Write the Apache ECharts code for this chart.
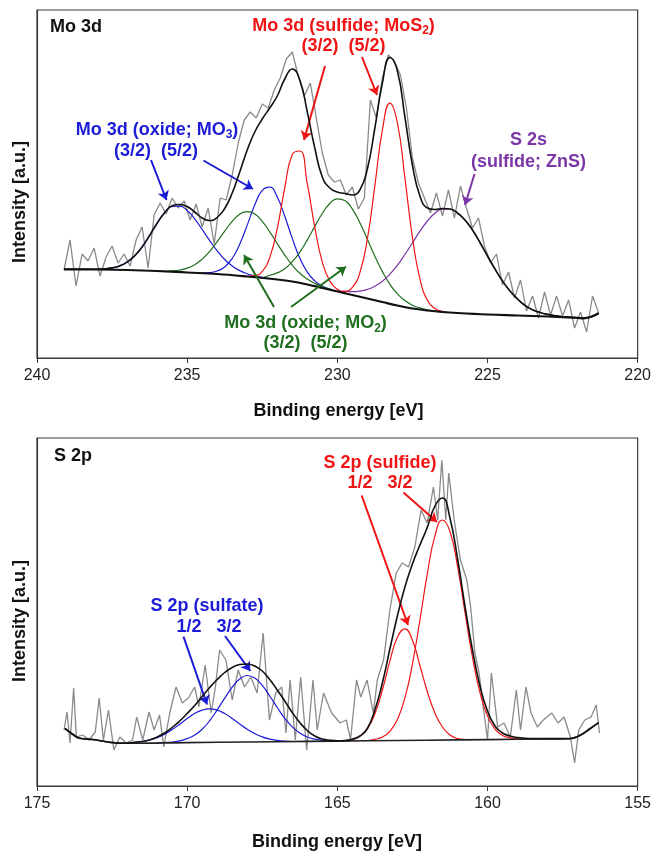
<!DOCTYPE html>
<html><head><meta charset="utf-8">
<script src="https://cdn.jsdelivr.net/npm/echarts/dist/echarts.min.js"></script>
<style>html,body{margin:0;padding:0;background:#fff;}#c{width:654px;height:852px;}</style>
</head><body><div id="c"></div>
<script>
// ---------- Mo 3d panel (binding energy eV, intensity a.u.) ----------
const moTicks = [240, 235, 230, 225, 220];
const moRawE = [239.1,238.9,238.7,238.5,238.3,238.1,237.9,237.7,237.5,237.3,237.1,236.9,236.7,236.5,236.3,236.1,235.9,235.7,235.5,235.3,235.1,234.9,234.7,234.5,234.3,234.1,233.9,233.7,233.5,233.3,233.1,232.9,232.7,232.5,232.3,232.1,231.9,231.7,231.5,231.3,231.1,230.9,230.7,230.5,230.3,230.1,229.9,229.7,229.5,229.3,229.1,228.9,228.7,228.5,228.3,228.1,227.9,227.7,227.5,227.3,227.1,226.9,226.7,226.5,226.3,226.1,225.9,225.7,225.5,225.3,225.1,224.9,224.7,224.5,224.3,224.1,223.9,223.7,223.5,223.3,223.1,222.9,222.7,222.5,222.3,222.1,221.9,221.7,221.5,221.3];
const moRawI = [88,118,72,104,97,110,82,101,112,95,104,92,118,131,90,143,155,144,160,150,157,138,154,131,150,114,160,158,183,215,238,246,240,254,250,268,280,299,306,282,262,275,240,205,183,176,178,163,171,149,160,258,240,280,303,297,283,250,200,175,160,145,165,142,168,140,172,150,130,140,112,95,104,73,86,60,78,47,62,40,66,43,62,42,58,30,46,26,62,45];
const moBackground = [[239.1,88.7],[238,88.5],[237,88],[236,87],[235,85.5],[234,84],[233,81.5],[232,78.5],[231.5,76.5],[231,73.5],[230.5,70],[230,66.5],[229.5,63],[229,59.5],[228.5,56],[228,52.5],[227.5,49.5],[227,47.5],[226.5,46],[226,45],[225,43.5],[224,42.5],[223,41.5],[222,40.2],[221.8,39.7],[221.3,44.7]];
const moEnvelope = [[239.1,88.7],[238.75,88.7],[238.5,88.7],[238.25,88.7],[238,88.8],[237.75,89.1],[237.5,90.1],[237.25,92.1],[237,95.9],[236.75,102.1],[236.5,111.1],[236.25,122.5],[236,134.8],[235.75,145.3],[235.5,152.3],[235.25,153.5],[235,151.5],[234.75,146],[234.5,140],[234.25,137.5],[234,140.5],[233.75,149.5],[233.5,165],[233.25,186],[233,208],[232.75,226],[232.5,239],[232.25,250],[232,262],[231.75,279],[231.5,289],[231.25,278],[231,246],[230.75,210],[230.5,181],[230.25,170],[230,166],[229.75,164.5],[229.5,163],[229.25,168],[229,189],[228.75,230],[228.5,275],[228.25,300.5],[228,287],[227.75,241],[227.5,193],[227.25,162],[227,150],[226.75,148.5],[226.5,149.5],[226.25,149],[226,145],[225.75,138],[225.5,128],[225.25,115.5],[225,102],[224.75,89],[224.5,77],[224.25,67],[224,59],[223.75,52.5],[223.5,48.2],[223.25,45.5],[223,43.6],[222.75,42.3],[222.5,41.3],[222.25,40.7],[222,40.3],[221.8,39.9],[221.3,44.7]];
const moO3_32 = [[238,88.8],[237.75,89.1],[237.5,90.1],[237.25,92.1],[237,95.9],[236.75,102.1],[236.5,111.1],[236.25,122.5],[236,134.8],[235.75,145.3],[235.5,151.5],[235.25,151.9],[235,147.5],[234.75,139.1],[234.5,128.6],[234.25,117.4],[234,107.2],[233.75,98.5],[233.5,92],[233.25,87.4],[233,84.2],[232.75,82.1],[232.5,80.6],[232.25,79.3]];
const moO3_52 = [[234.5,85.1],[234.25,85.4],[234,87],[233.75,91],[233.5,99.5],[233.25,113.8],[233,132.9],[232.75,153],[232.5,167.6],[232.25,170.8],[232,161],[231.75,141.7],[231.5,119.6],[231.25,99.9],[231,85.9],[230.75,77.1],[230.5,72],[230.25,68.9],[230,66.5]];
const moO2_32 = [[236,87],[235.75,86.9],[235.5,87.2],[235.25,88],[235,89.9],[234.75,93.3],[234.5,98.9],[234.25,106.6],[234,116.4],[233.75,126.8],[233.5,136.6],[233.25,143.8],[233,146.4],[232.75,144],[232.5,136.7],[232.25,126.2],[232,114.4],[231.75,102.8],[231.5,92.9],[231.25,84.8],[231,79],[230.75,74.6],[230.5,71.3],[230.25,68.9],[230,66.5]];
const moO2_52 = [[232.5,80],[232.25,82.7],[232,85.1],[231.75,89.3],[231.5,96.3],[231.25,105.8],[231,118.1],[230.75,131.6],[230.5,144.5],[230.25,154.5],[230,159.2],[229.75,157.4],[229.5,148.8],[229.25,135.3],[229,118.7],[228.75,101.8],[228.5,86.4],[228.25,73.7],[228,64.1],[227.75,57.4],[227.5,52.8],[227.25,50.1],[227,48.2],[226.75,46.9],[226.5,46]];
const moS2_32 = [[233,81.8],[232.75,82.4],[232.5,86.7],[232.25,100.6],[232,129.6],[231.75,170.1],[231.5,203.5],[231.25,207],[231,174.3],[230.75,130.7],[230.5,95.9],[230.25,76.9],[230,68.7],[229.75,65.2],[229.5,63]];
const moS2_52 = [[230,66.5],[229.75,66.7],[229.5,70.6],[229.25,85.4],[229,119],[228.75,172.4],[228.5,227.9],[228.25,254.8],[228,235],[227.75,180.2],[227.5,120.8],[227.25,79.1],[227,57.7],[226.75,49.4],[226.5,46.5],[226.25,45.5]];
const znS_2s = [[230,67.5],[229.75,66.7],[229.5,66.3],[229.25,66.9],[229,68.6],[228.75,71.8],[228.5,76.8],[228.25,83.8],[228,92.8],[227.75,103.5],[227.5,115],[227.25,126.8],[227,137],[226.75,144.8],[226.5,148.9],[226.25,149],[226,145],[225.75,138],[225.5,128],[225.25,115.5],[225,102],[224.75,89],[224.5,77],[224.25,67],[224,59],[223.75,52.5],[223.5,48.2],[223.25,45.5],[223,43.6],[222.75,42.3],[222.5,41.3],[222.25,40.7]];

// ---------- S 2p panel ----------
const sTicks = [175, 170, 165, 160, 155];
const sRawE = [174.1,174.0,173.9,173.78,173.69,173.48,173.27,173.06,172.93,172.79,172.62,172.44,172.24,172.03,171.82,171.68,171.48,171.27,171.1,170.92,170.78,170.58,170.37,170.16,169.96,169.75,169.61,169.4,169.2,169.06,168.92,168.71,168.5,168.3,168.09,167.88,167.67,167.47,167.26,167.05,166.85,166.71,166.57,166.4,166.22,166.02,165.81,165.67,165.46,165.19,164.91,164.7,164.56,164.36,164.22,164.01,163.8,163.67,163.46,163.25,163.04,162.84,162.63,162.42,162.21,162.01,161.8,161.66,161.52,161.39,161.29,161.11,160.9,160.69,160.56,160.42,160.28,160.14,160.0,159.87,159.66,159.45,159.24,159.04,158.9,158.72,158.55,158.34,158.14,157.86,157.65,157.45,157.24,157.1,156.96,156.76,156.55,156.38,156.27];
const sRawI = [56,74,43,98,49,51,46,54,88,46,76,36,49,43,46,69,46,74,56,71,39,73,99,83,88,99,79,121,73,99,136,126,86,116,99,109,93,153,66,93,99,53,106,46,109,36,106,56,93,73,63,66,46,106,89,106,73,106,126,176,213,223,219,239,276,263,299,266,326,266,313,266,226,206,179,133,113,79,46,113,59,63,49,96,56,99,73,59,66,73,63,69,49,23,56,66,69,81,53];
const sBackground = [[174.07,57.7],[173.8,51.5],[173.58,47.7],[173.14,46.5],[172.6,43.8],[172.03,42.8],[170,43.4],[168,44],[166,44.6],[164,45.2],[162,45.8],[160,46.4],[158,47],[157.25,47.3],[156.9,51],[156.6,57],[156.3,63.3]];
const sEnvelope = [[174.07,57.7],[173.8,51.5],[173.58,47.7],[173.14,46.5],[172.6,43.8],[172.03,42.8],[171.75,43.7],[171.5,44.5],[171.25,46.1],[171,49],[170.75,53],[170.5,58.5],[170.25,65],[170,72.5],[169.75,80.5],[169.5,89.5],[169.25,98.5],[169,106.5],[168.75,113.5],[168.5,118.5],[168.25,121.5],[168,122],[167.75,120],[167.5,115],[167.25,106.5],[167,96],[166.75,85],[166.5,73.5],[166.25,63.5],[166,55.5],[165.75,50],[165.5,47],[165.25,45.8],[165,45.3],[164.75,45.5],[164.5,46.8],[164.25,50],[164,57.5],[163.75,76],[163.5,103],[163.25,137],[163,170],[162.75,199],[162.5,222],[162.25,241],[162,259],[161.75,280],[161.5,288],[161.25,268],[161,228],[160.75,180],[160.5,136],[160.25,100],[160,75],[159.75,60],[159.5,53],[159.25,50],[159,48.5],[158.75,47.8],[158.5,47.5],[158,47.4],[157.25,47.5],[156.9,51],[156.6,57],[156.3,63.3]];
const sulfate_12 = [[172,43.2],[171.75,43.7],[171.5,44.5],[171.25,46.1],[171,48.4],[170.75,51.9],[170.5,56.5],[170.25,61.8],[170,67.5],[169.75,72.6],[169.5,75.9],[169.25,77.2],[169,75.9],[168.75,72.4],[168.5,67.5],[168.25,62],[168,56.7],[167.75,52.4],[167.5,49.1],[167.25,46.9],[167,45.6],[166.75,44.8],[166.5,44.5]];
const sulfate_32 = [[171,43.2],[170.75,43.5],[170.5,44],[170.25,45.1],[170,47.4],[169.75,51],[169.5,56.8],[169.25,65.3],[169,76.1],[168.75,87.8],[168.5,98.8],[168.25,107],[168,110.5],[167.75,108],[167.5,100.6],[167.25,90],[167,78.5],[166.75,67.7],[166.5,59.1],[166.25,53],[166,49],[165.75,46.8],[165.5,45.7],[165.25,45.2],[165,44.9]];
const sulfide_12 = [[165,45.2],[164.75,45.4],[164.5,46.6],[164.25,49.7],[164,57.1],[163.75,72.3],[163.5,96],[163.25,124.8],[163,148.7],[162.75,157.2],[162.5,145.8],[162.25,120.5],[162,94],[161.75,73],[161.5,59],[161.25,51],[161,47.5],[160.75,46.5],[160.5,46.3]];
const sulfide_32 = [[164,45.5],[163.75,46.7],[163.5,49],[163.25,54.6],[163,66.5],[162.75,88.1],[162.5,121.9],[162.25,166],[162,212.9],[161.75,250.2],[161.5,266],[161.25,254.5],[161,220.1],[160.75,173.9],[160.5,128.8],[160.25,93.4],[160,70],[159.75,56.9],[159.5,50.6],[159.25,48.1],[159,47.1],[158.75,46.8]];

// ---------- styling ----------
const FONT = '"Liberation Sans", Arial, Helvetica, sans-serif';
const RED = '#f01414', BLUE = '#1c1cd6', GREEN = '#1f6f1f', PURPLE = '#7a35a6', GRAY = '#8a8a8a';

function zip(E, I) { return E.map((e, i) => [e, I[i]]); }
function line(data, g, color, width, z, smooth) {
  return { type: 'line', xAxisIndex: g, yAxisIndex: g, data: data, symbol: 'none', smooth: smooth,
    lineStyle: { color: color, width: width }, itemStyle: { color: color }, z: z, silent: true, animation: false };
}
function arrows(list) {
  return list.map(a => [{ x: a[0], y: a[1], lineStyle: { color: a[4], width: 2, type: 'solid' }, itemStyle: { color: a[4] } }, { x: a[2], y: a[3] }]);
}
function xAx(g, min, max) {
  return { gridIndex: g, type: 'value', min: min, max: max, interval: 5, inverse: true,
    axisLine: { lineStyle: { color: '#3a3a3a', width: 1.2 } },
    axisTick: { length: 5, lineStyle: { color: '#3a3a3a' } },
    axisLabel: { fontSize: 16, color: '#222', margin: 10, fontFamily: FONT },
    splitLine: { show: false } };
}
function yAx(g) {
  return { gridIndex: g, type: 'value', min: 0, max: 348, axisLine: { show: true, lineStyle: { color: '#3a3a3a', width: 1.2 } },
    axisTick: { show: false }, axisLabel: { show: false }, splitLine: { show: false } };
}
function txt(s, x, y, color, align, extra) {
  const st = { text: s, fill: color, fontSize: 18, fontWeight: 'bold', fontFamily: FONT,
    align: align || 'center', verticalAlign: 'middle', textAlign: align || 'center', textVerticalAlign: 'middle',
    lineHeight: 22,
    rich: { s: { fontSize: 12, fontWeight: 'bold', fontFamily: FONT, fill: color, verticalAlign: 'bottom', lineHeight: 12 } } };
  return Object.assign({ type: 'text', x: x, y: y, silent: true, z: 100, style: st }, extra || {});
}

const topArrows = [
  [325, 66, 304, 140, RED], [362, 57, 377, 95, RED],
  [151, 160, 166.5, 200, BLUE], [203.5, 160.5, 253, 189, BLUE],
  [474.5, 174, 465, 205, PURPLE],
  [274, 307, 244, 255, GREEN], [291, 307, 346, 266.7, GREEN]
];
const botArrows = [
  [361.7, 495.5, 408, 625, RED], [403.5, 492.5, 437, 522, RED],
  [183.5, 636.7, 207, 704.5, BLUE], [225, 636, 250.3, 671, BLUE]
];

const rawTop = line(zip(moRawE, moRawI), 0, GRAY, 1.3, 1, false);
rawTop.markLine = { silent: true, animation: false, symbol: ['none', 'arrow'], symbolSize: 9, label: { show: false }, data: arrows(topArrows) };
const rawBot = line(zip(sRawE, sRawI), 1, GRAY, 1.3, 1, false);
rawBot.markLine = { silent: true, animation: false, symbol: ['none', 'arrow'], symbolSize: 9, label: { show: false }, data: arrows(botArrows) };

const option = {
  animation: false,
  backgroundColor: '#fff',
  grid: [
    { left: 37, top: 10, width: 602, height: 348, show: true, borderColor: '#3a3a3a', borderWidth: 1.2 },
    { left: 37, top: 438, width: 604, height: 348, show: true, borderColor: '#3a3a3a', borderWidth: 1.2 }
  ],
  xAxis: [xAx(0, moTicks[4], moTicks[0]), xAx(1, sTicks[4], sTicks[0])],
  yAxis: [yAx(0), yAx(1)],
  series: [
    rawTop,
    line(moO3_32, 0, BLUE, 1.2, 2, true),
    line(moO3_52, 0, BLUE, 1.2, 2, true),
    line(moO2_32, 0, GREEN, 1.2, 2, true),
    line(moO2_52, 0, GREEN, 1.2, 2, true),
    line(znS_2s, 0, PURPLE, 1.2, 2, true),
    line(moS2_32, 0, RED, 1.2, 3, true),
    line(moS2_52, 0, RED, 1.2, 3, true),
    line(moBackground, 0, '#111', 2.2, 4, 0.4),
    line(moEnvelope, 0, '#111', 1.6, 5, true),
    rawBot,
    line(sulfate_12, 1, BLUE, 1.2, 2, true),
    line(sulfate_32, 1, BLUE, 1.2, 2, true),
    line(sulfide_12, 1, RED, 1.2, 2, true),
    line(sulfide_32, 1, RED, 1.2, 2, true),
    line(sBackground, 1, '#222', 1.6, 4, 0.4),
    line(sEnvelope, 1, '#111', 1.6, 5, true)
  ],
  graphic: [
    txt('Mo 3d', 50, 27, '#111', 'left'),
    txt('Mo 3d (sulfide; MoS{s|2})', 343.5, 26, RED),
    txt('(3/2)  (5/2)', 343.5, 46, RED),
    txt('Mo 3d (oxide; MO{s|3})', 157, 130, BLUE),
    txt('(3/2)  (5/2)', 156, 151.5, BLUE),
    txt('S 2s', 528.5, 140, PURPLE),
    txt('(sulfide; ZnS)', 528.5, 162, PURPLE),
    txt('Mo 3d (oxide; MO{s|2})', 305.5, 323.5, GREEN),
    txt('(3/2)  (5/2)', 305.5, 343.5, GREEN),
    txt('Binding energy [eV]', 338.5, 411, '#111'),
    txt('Intensity [a.u.]', 20, 202, '#111', 'center', { rotation: Math.PI / 2 }),
    txt('S 2p', 54, 456, '#111', 'left'),
    txt('S 2p (sulfide)', 380, 463, RED),
    txt('1/2   3/2', 380, 483, RED),
    txt('S 2p (sulfate)', 207, 606, BLUE),
    txt('1/2   3/2', 209, 627, BLUE),
    txt('Binding energy [eV]', 337, 842, '#111'),
    txt('Intensity [a.u.]', 20, 621, '#111', 'center', { rotation: Math.PI / 2 })
  ]
};
const chart = echarts.init(document.getElementById('c'), null, { renderer: 'canvas' });
chart.setOption(option);
</script></body></html>
